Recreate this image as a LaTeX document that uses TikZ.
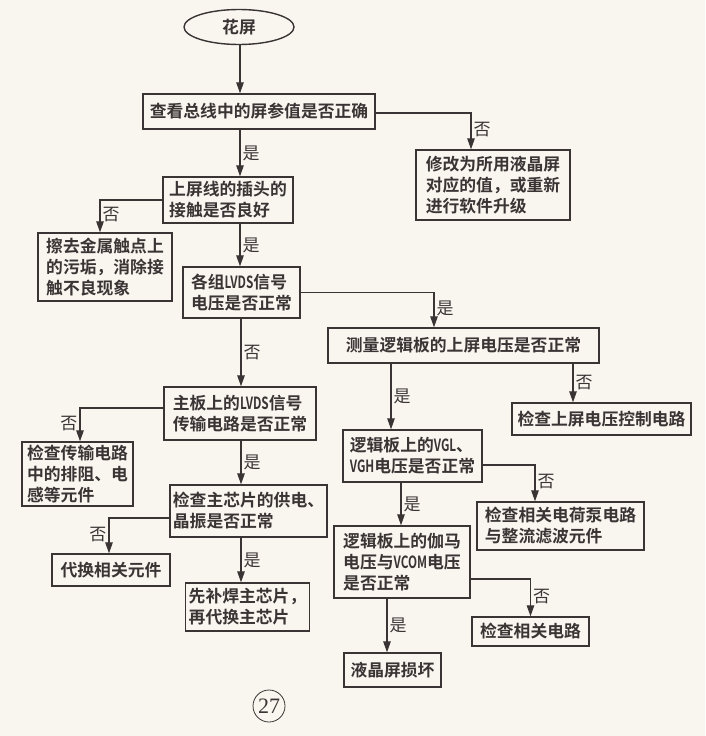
\documentclass[tikz,border=0pt]{standalone}
\usepackage{fontspec}
\setmainfont{Noto Sans CJK SC}[BoldFont=* Bold]
\newfontfamily\narrowlat[FakeStretch=0.7,BoldFont=* Bold]{Noto Sans CJK SC}
\newfontfamily\pagenum{Liberation Serif}
\usetikzlibrary{shapes.geometric,arrows.meta}
\definecolor{paper}{RGB}{249,246,240}
\definecolor{ink}{RGB}{58,52,52}
\newcommand{\lat}[1]{{\narrowlat #1}}

\tikzstyle{start}=[ellipse,draw=ink,line width=1.4pt,minimum width=110pt,minimum height=35pt]
\tikzstyle{box}=[draw=ink,line width=1.4pt,align=left,inner sep=3pt]
\tikzstyle{edge} = [draw=ink,line width=1.2pt,-{Triangle[length=11pt,width=7.5pt]}]
\tikzstyle{lab}=[inner sep=2pt,font=\fontsize{17}{21}\selectfont]

\begin{document}
\begin{tikzpicture}[x=1pt,y=-1pt,every node/.style={font=\bfseries\fontsize{16.8}{21}\selectfont,text=ink}]
			\fill[paper] (0,0) rectangle (705,736);
			\useasboundingbox (0,0) rectangle (705,736);
			\node[start] (start) at (239,27) {花屏};
			\node[box,minimum width=232pt,minimum height=35pt] (check) at (259,111.5) {查看总线中的屏参值是否正确};
			\node[box,minimum width=154pt,minimum height=70pt] (fix) at (493,185) {修改为所用液晶屏\\对应的值，或重新\\进行软件升级};
			\node[box,minimum width=130pt,minimum height=46pt] (plug) at (228,200) {上屏线的插头的\\接触是否良好};
			\node[box,minimum width=134pt,minimum height=68pt] (clean) at (105,267) {擦去金属触点上\\的污垢，消除接\\触不良现象};
			\node[box,minimum width=117pt,minimum height=51pt] (lvds) at (241.5,292.5) {各组\lat{LVDS}信号\\电压是否正常};
			\node[box,minimum width=271pt,minimum height=35pt] (logic) at (463.5,345.5) {测量逻辑板的上屏电压是否正常};
			\node[box,minimum width=152pt,minimum height=53pt] (mainb) at (240,413.5) {主板上的\lat{LVDS}信号\\传输电路是否正常};
			\node[box,minimum width=179pt,minimum height=32pt] (ctrl) at (601.5,419) {检查上屏电压控制电路};
			\node[box,minimum width=111pt,minimum height=64pt] (trans) at (77.5,474) {检查传输电路\\中的排阻、电\\感等元件};
			\node[box,minimum width=139pt,minimum height=52pt] (vgl) at (412.5,456) {逻辑板上的\lat{VGL}、\\\lat{VGH}电压是否正常};
			\node[box,minimum width=157pt,minimum height=52pt] (chip) at (248.5,511) {检查主芯片的供电、\\晶振是否正常};
			\node[box,minimum width=167pt,minimum height=48pt] (pump) at (560.5,526) {检查相关电荷泵电路\\与整流滤波元件};
			\node[box,minimum width=136pt,minimum height=72pt] (gamma) at (402,562) {逻辑板上的伽马\\电压与\lat{VCOM}电压\\是否正常};
			\node[box,minimum width=118pt,minimum height=32pt] (repl) at (111,570) {代换相关元件};
			\node[box,minimum width=123pt,minimum height=48pt] (weld) at (247.5,607) {先补焊主芯片，\\再代换主芯片};
			\node[box,minimum width=117pt,minimum height=29pt] (circ) at (530.5,631.5) {检查相关电路};
			\node[box,minimum width=97pt,minimum height=34pt] (lcd) at (392.5,670) {液晶屏损坏};
			\node[draw=ink,circle,line width=0.8pt,minimum size=32pt,inner sep=0pt,font=\pagenum\fontsize{22}{22}\selectfont] (page) at (269,706) {27};
			% straight arrows going down
			\foreach \src/\sx/\dst/\dx/\lab in {start/1/check/-19/{}, check/-19/plug/12/是, plug/12/lvds/-1.5/是,
				lvds/-0.5/mainb/1/否, logic/-72.5/vgl/-21.5/是, logic/109.5/ctrl/-28.5/否, mainb/1/chip/-7.5/是,
				vgl/-11.5/gamma/-1/是, chip/-7.5/weld/-6.5/是, gamma/-15/lcd/-5.5/是}
				\path[edge] ([xshift=\sx pt]\src.south) -- ([xshift=\dx pt]\dst.north) node[lab,midway,right] {\lab};
			% branches turning down
			\foreach \src/\from/\dy/\dst/\dx/\lab/\side in {check/east/-1.5/fix/-22/否/right, plug/west/0/clean/-5/否/right,
				lvds/east/0/logic/-29.5/是/right, mainb/west/5.5/trans/2.5/否/left, vgl/east/-9/pump/-25.5/否/right,
				chip/west/-7/repl/-2/否/left, gamma/east/-17/circ/0/否/right}
				\path[edge] ([yshift=\dy pt]\src.\from) -| ([xshift=\dx pt]\dst.north) node[lab,pos=0.73,\side] {\lab};
\end{tikzpicture}
\end{document}
